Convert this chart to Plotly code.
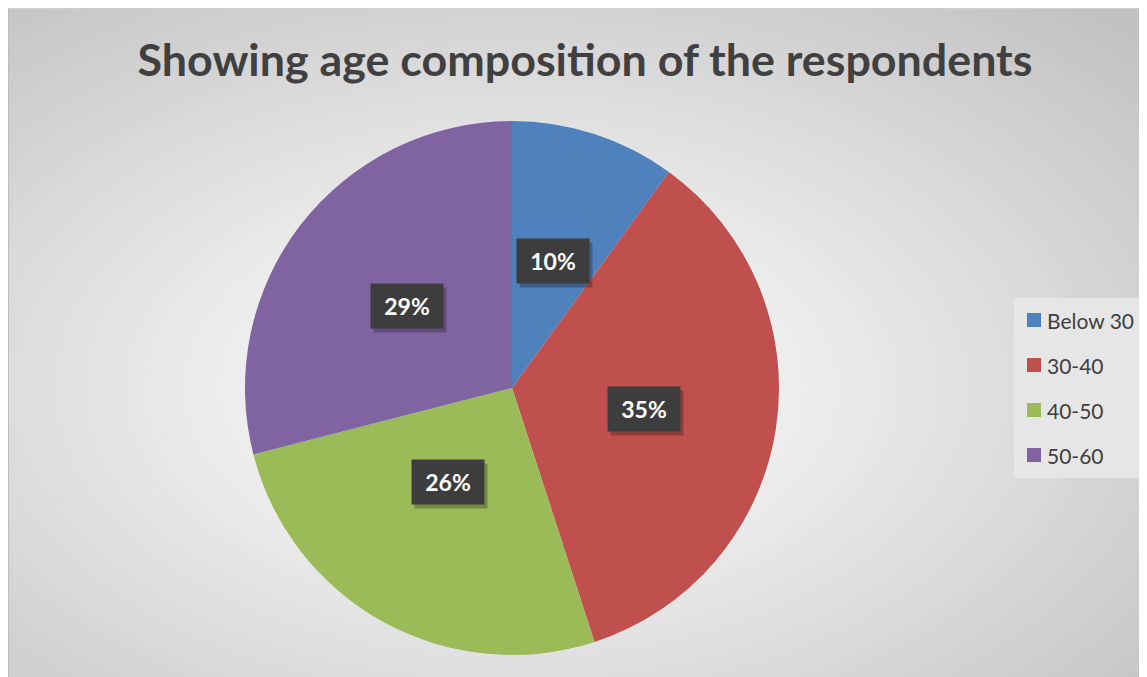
import base64
import math
import plotly.graph_objects as go

# ---- data ----
categories = ["Below 30", "30-40", "40-50", "50-60"]
values = [10, 35, 26, 29]
colors = ["#4F81BD", "#C0504D", "#9BBB59", "#8064A2"]
title_text = "Showing age composition of the respondents"

W, H = 1147, 677
OFF = 8  # page body margin
FONT = "Lato"

# pie geometry (screen pixels)
cx, cy, R = 512, 388, 267

svg = f'''<svg xmlns="http://www.w3.org/2000/svg" width="{W}" height="{H}" preserveAspectRatio="none">
<defs><radialGradient id="g" cx="{(cx-OFF)/W:.3f}" cy="{(cy-OFF)/H:.3f}" r="0.75" gradientUnits="objectBoundingBox">
<stop offset="0" stop-color="#f7f7f7"/><stop offset="0.35" stop-color="#ececec"/><stop offset="1" stop-color="#c2c2c2"/>
</radialGradient></defs>
<rect width="100%" height="100%" fill="url(#g)"/></svg>'''
bg_src = "data:image/svg+xml;base64," + base64.b64encode(svg.encode()).decode()

def px(x):
    return (x - OFF) / W

def py(y):
    return 1 - (y - OFF) / H

fig = go.Figure(go.Pie(
    labels=categories, values=values, sort=False, direction="clockwise", rotation=0,
    marker=dict(colors=colors, line=dict(width=0)), textinfo="none", hoverinfo="label+percent",
    showlegend=False,
    domain=dict(x=[px(cx - R), px(cx + R)], y=[py(cy + R), py(cy - R)]),
))

annotations = []
shapes = []

total = sum(values)
cum = 0
for v in values:
    mid = (cum + v / 2) / total * 2 * math.pi
    cum += v
    lx = cx + 0.5 * R * math.sin(mid)
    ly = cy - 0.5 * R * math.cos(mid)
    pct = f"{round(v / total * 100)}%"
    annotations.append(dict(x=px(lx), y=py(ly), xref="paper", yref="paper", text="",
                            showarrow=False, width=70, height=42, xshift=3, yshift=-4,
                            bgcolor="rgba(0,0,0,0.25)"))
    annotations.append(dict(x=px(lx), y=py(ly), xref="paper", yref="paper",
                            text=f"<b>{pct}</b>", showarrow=False, width=70, height=42,
                            bgcolor="#3d3d3d", font=dict(family=FONT, size=23, color="white")))

# legend (manual)
leg_x0, leg_y0, leg_x1, leg_y1 = 1014, 298, 1160, 478
shapes.append(dict(type="rect", xref="paper", yref="paper", x0=px(leg_x0), x1=px(leg_x1),
                   y0=py(leg_y1), y1=py(leg_y0), fillcolor="#e6e6e6", line=dict(width=0), layer="below"))
for i, (lab, col) in enumerate(zip(categories, colors)):
    yc = 320 + 45 * i
    shapes.append(dict(type="rect", xref="paper", yref="paper", x0=px(1027), x1=px(1041),
                       y0=py(yc + 7), y1=py(yc - 7), fillcolor=col, line=dict(width=0)))
    annotations.append(dict(x=px(1045), y=py(yc), xref="paper", yref="paper", text=lab,
                            showarrow=False, xanchor="left", yanchor="middle",
                            font=dict(family=FONT, size=21, color="#404040")))

# chart border (top & left edges)
shapes.append(dict(type="line", xref="paper", yref="paper", x0=0, x1=1, y0=1, y1=1,
                   line=dict(color="#cfcfcf", width=2)))
shapes.append(dict(type="line", xref="paper", yref="paper", x0=0, x1=0, y0=0, y1=1,
                   line=dict(color="#bdbdbd", width=2)))

fig.update_layout(
    width=W, height=H, margin=dict(l=0, r=0, t=0, b=0),
    paper_bgcolor="#dddddd", plot_bgcolor="#dddddd",
    title=dict(text=f"<b>{title_text}</b>", x=px(585), xanchor="center", y=py(60), yanchor="middle",
               font=dict(family=FONT, size=44.8, color="#404040")),
    images=[dict(source=bg_src, xref="paper", yref="paper", x=0, y=1, sizex=1, sizey=1,
                 xanchor="left", yanchor="top", sizing="stretch", layer="below")],
    annotations=annotations, shapes=shapes,
)

fig.write_html("out.html")
